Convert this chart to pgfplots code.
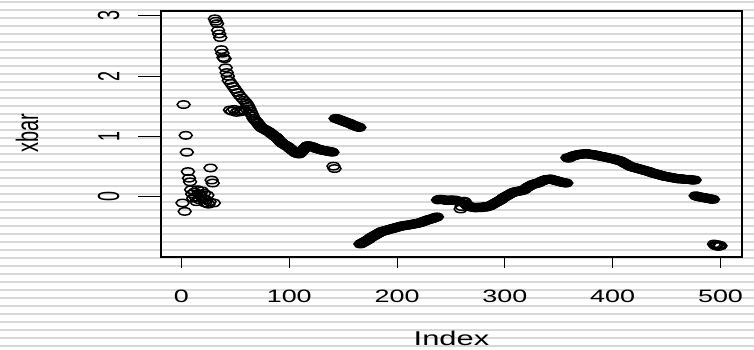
\documentclass[border=0pt]{standalone}
\usepackage{graphicx}
\usepackage{fontspec}
\setmainfont{Liberation Sans}
\usepackage{pgfplots}
\usepackage{pgfplotstable}
\pgfplotsset{compat=1.18}
\definecolor{stripe}{RGB}{216,216,216}
\newcommand\sx[1]{\scalebox{1.5}[1]{#1}}
\newcommand\sy[1]{\scalebox{1}[1.7]{#1}}
\pgfplotstableread{
y
-0.10
1.53
-0.24
1.02
0.74
0.42
0.31
0.25
0.12
0.05
-0.02
0.08
0.00
-0.08
0.12
0.05
-0.05
0.02
0.10
-0.03
0.06
-0.10
-0.05
0.03
-0.12
-0.08
0.48
0.28
0.23
-0.10
2.95
2.91
2.87
2.76
2.70
2.64
2.44
2.38
2.31
2.29
2.14
2.06
2.00
1.93
1.44
1.88
1.42
1.83
1.45
1.78
1.40
1.73
1.43
1.68
1.41
1.64
1.44
1.60
1.42
1.56
1.53
1.50
1.46
1.42
1.38
1.34
1.30
1.28
1.26
1.24
1.22
1.19
1.17
1.15
1.14
1.13
1.12
1.11
1.10
1.09
1.08
1.07
1.05
1.04
1.03
1.01
1.00
0.99
0.97
0.95
0.93
0.91
0.90
0.88
0.87
0.86
0.85
0.84
0.83
0.81
0.80
0.78
0.77
0.76
0.74
0.73
0.72
0.72
0.71
0.72
0.74
0.76
0.78
0.80
0.82
0.84
0.85
0.85
0.84
0.84
0.83
0.83
0.82
0.81
0.80
0.80
0.79
0.79
0.78
0.78
0.77
0.77
0.77
0.76
0.76
0.76
0.75
0.75
0.75
0.74
0.51
0.47
1.30
1.30
1.29
1.28
1.28
1.27
1.26
1.26
1.25
1.24
1.24
1.23
1.22
1.22
1.21
1.20
1.19
1.18
1.18
1.17
1.16
1.16
1.15
-0.78
-0.77
-0.76
-0.75
-0.74
-0.73
-0.72
-0.71
-0.70
-0.68
-0.67
-0.66
-0.65
-0.64
-0.63
-0.62
-0.61
-0.60
-0.59
-0.58
-0.57
-0.57
-0.56
-0.56
-0.55
-0.55
-0.54
-0.54
-0.53
-0.53
-0.52
-0.52
-0.51
-0.51
-0.50
-0.50
-0.49
-0.49
-0.48
-0.48
-0.48
-0.47
-0.47
-0.47
-0.47
-0.46
-0.46
-0.46
-0.45
-0.45
-0.45
-0.44
-0.44
-0.44
-0.43
-0.43
-0.42
-0.42
-0.41
-0.40
-0.40
-0.39
-0.38
-0.38
-0.37
-0.37
-0.36
-0.36
-0.35
-0.34
-0.34
-0.33
-0.05
-0.04
-0.04
-0.04
-0.04
-0.05
-0.05
-0.05
-0.06
-0.06
-0.06
-0.05
-0.05
-0.05
-0.06
-0.06
-0.05
-0.06
-0.07
-0.07
-0.08
-0.20
-0.16
-0.08
-0.07
-0.08
-0.12
-0.14
-0.15
-0.16
-0.16
-0.17
-0.17
-0.17
-0.18
-0.18
-0.18
-0.17
-0.17
-0.17
-0.18
-0.17
-0.17
-0.16
-0.16
-0.17
-0.16
-0.15
-0.15
-0.14
-0.13
-0.12
-0.11
-0.10
-0.09
-0.08
-0.07
-0.06
-0.05
-0.04
-0.02
-0.01
0.00
0.01
0.02
0.03
0.04
0.05
0.06
0.07
0.08
0.08
0.09
0.09
0.09
0.10
0.10
0.10
0.11
0.11
0.12
0.13
0.15
0.16
0.17
0.18
0.19
0.20
0.21
0.21
0.22
0.22
0.23
0.23
0.24
0.25
0.26
0.27
0.27
0.28
0.29
0.29
0.29
0.29
0.30
0.29
0.29
0.28
0.28
0.27
0.27
0.26
0.26
0.25
0.25
0.24
0.24
0.24
0.23
0.23
0.65
0.64
0.65
0.66
0.67
0.68
0.68
0.69
0.69
0.70
0.70
0.70
0.71
0.71
0.71
0.71
0.71
0.72
0.72
0.71
0.71
0.71
0.70
0.70
0.70
0.70
0.69
0.69
0.69
0.68
0.68
0.67
0.67
0.67
0.66
0.66
0.66
0.65
0.65
0.64
0.64
0.64
0.63
0.63
0.62
0.62
0.61
0.61
0.60
0.60
0.59
0.58
0.57
0.56
0.55
0.54
0.53
0.52
0.51
0.50
0.50
0.49
0.49
0.48
0.48
0.47
0.47
0.46
0.46
0.45
0.45
0.44
0.44
0.43
0.43
0.42
0.42
0.41
0.40
0.40
0.39
0.39
0.38
0.38
0.37
0.37
0.36
0.36
0.35
0.35
0.34
0.34
0.34
0.33
0.33
0.33
0.32
0.32
0.32
0.31
0.31
0.31
0.30
0.30
0.30
0.30
0.30
0.30
0.29
0.29
0.29
0.29
0.29
0.29
0.29
0.28
0.28
0.28
0.28
0.02
0.01
0.01
0.00
0.00
0.00
-0.01
-0.01
-0.01
-0.02
-0.02
-0.02
-0.03
-0.03
-0.03
-0.04
-0.04
-0.78
-0.80
-0.81
-0.79
-0.82
-0.80
-0.81
}\xbardata
\begin{document}
\begin{tikzpicture}[x=1bp,y=1bp]
\fill[white] (0,0) rectangle (754,349);
\foreach \k in {0,...,43} {
  \fill[stripe] (0,{349-0.8-8*\k}) rectangle (754,{349-2.8-8*\k});
}
\pgfplotsset{common/.style={
  at={(161bp,92bp)}, anchor=south west,
  scale only axis, width=581bp, height=246bp,
  xmin=-18.96, xmax=519.96, ymin=-0.995, ymax=3.08,
  axis line style={line width=1.2bp, black},
  tick align=outside,
  ticklabel style={font=\fontsize{18}{18}\selectfont},
  clip=false,
}}
\begin{axis}[common,
  xtick={0,100,200,300,400,500},
  xticklabels={\sx{0},\sx{100},\sx{200},\sx{300},\sx{400},\sx{500}},
  ytick=\empty,
  major tick length=11bp,
  xtick style={line width=1.1bp, black},
  xtick pos=bottom,
  xticklabel style={anchor=north, yshift=-18bp},
]
\addplot[only marks, mark=o, mark size=3.7bp,
  mark options={xscale=1.75, line width=1.5bp, draw=black, fill=none}]
  table[x expr=\coordindex+1, y=y] {\xbardata};
\end{axis}
\begin{axis}[common,
  hide x axis,
  ytick={0,1,2,3},
  yticklabels={\sy{0},\sy{1},\sy{2},\sy{3}},
  major tick length=23bp,
  ytick style={line width=1.1bp, black},
  ytick pos=left,
  yticklabel style={xshift=-15bp, rotate=90, anchor=south},
]
\addplot[draw=none] coordinates {(0,0)};
\end{axis}
\node[font=\fontsize{20}{20}\selectfont, rotate=90] at (27,216) {\scalebox{1}[1.55]{xbar}};
\node[font=\fontsize{20}{20}\selectfont] at (451.5,11) {\scalebox{1.55}[1]{Index}};
\pgfresetboundingbox
\path (0,0) rectangle (754,349);
\end{tikzpicture}
\end{document}
